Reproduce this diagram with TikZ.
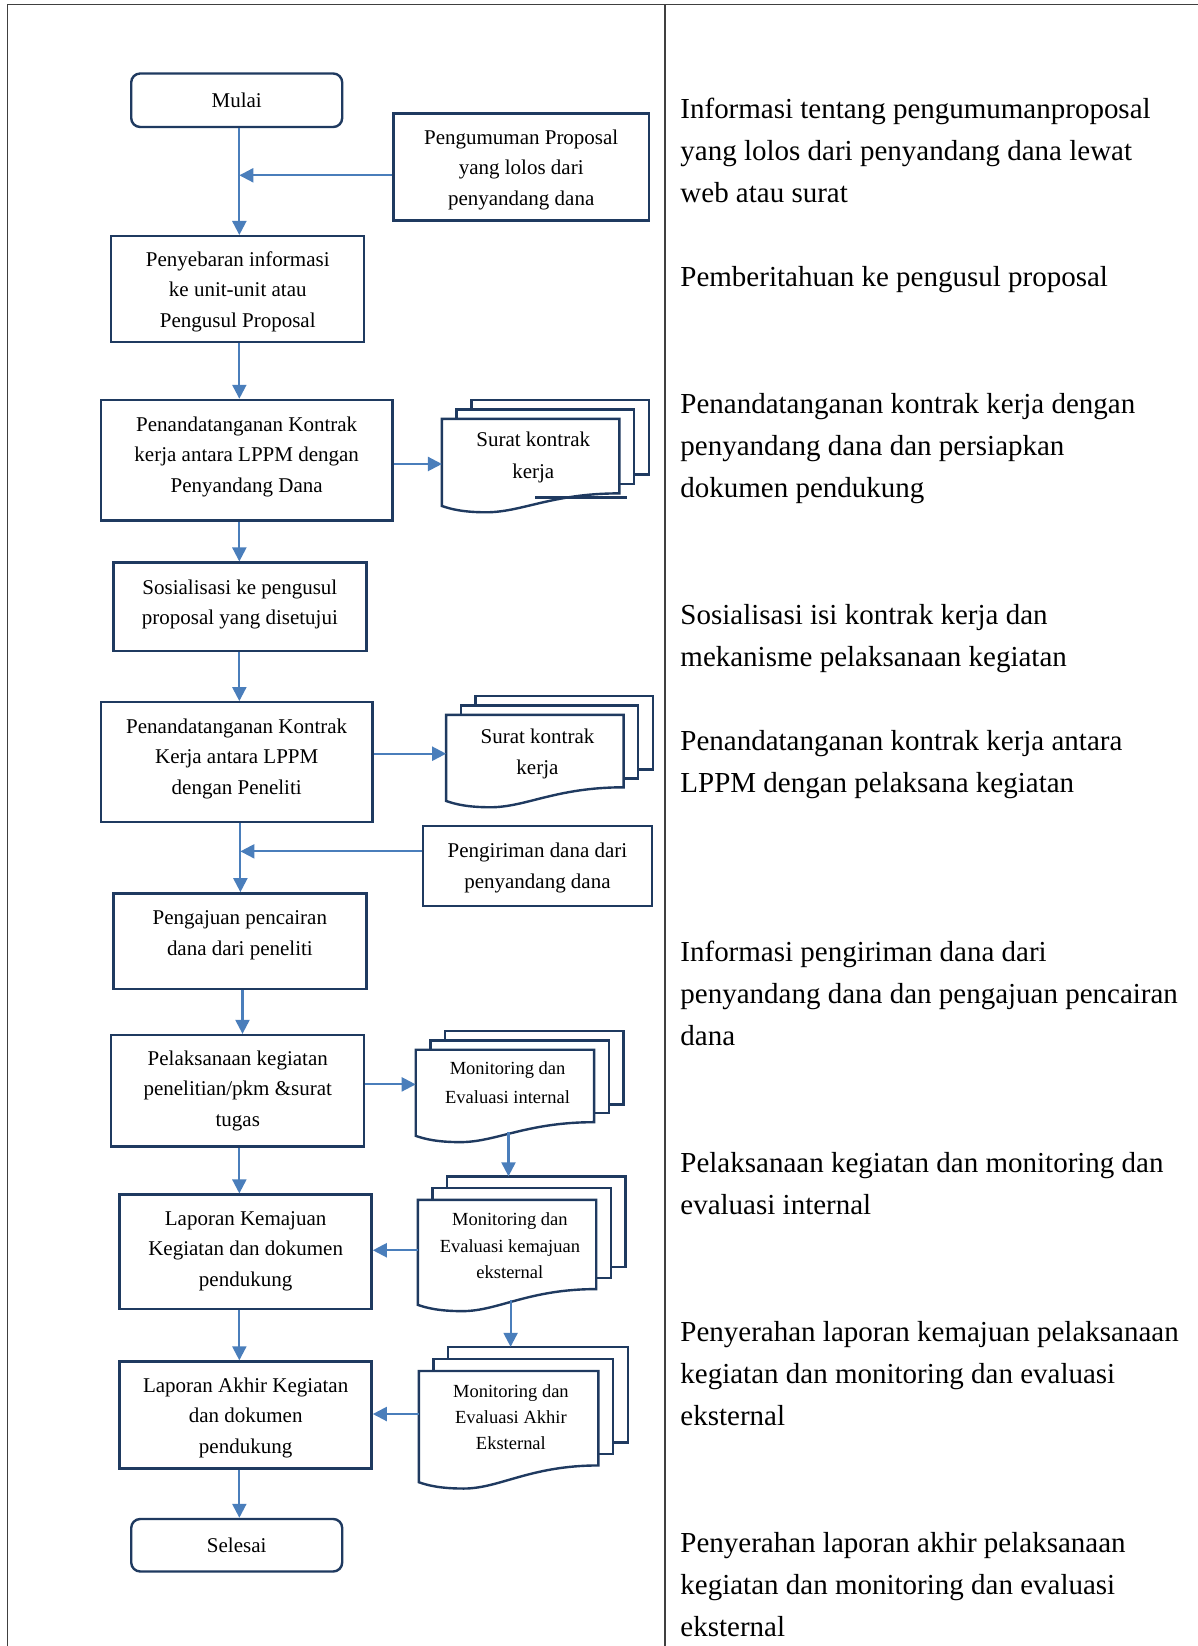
\documentclass[tikz,border=0pt]{standalone}
\usepackage{fontspec}
\setmainfont{Liberation Serif}
\usetikzlibrary{arrows.meta}
\definecolor{navy}{HTML}{1F3A60}
\definecolor{arrb}{HTML}{4A7EBB}
\definecolor{tblc}{HTML}{404040}
\newcommand\dn[1]{\rule[-#1pt]{0pt}{#1pt}}
\newcommand\up[1]{\rule{0pt}{#1pt}}
% multi-document: L, T, R, right-bottom, left-bottom, top offset, bottom offset, name
\newcommand\mdoc[8]{%
  \pgfmathsetmacro\mdw{#3-#1}%
  \filldraw[doc] ({#1+28},{#2-2*#6}) rectangle ({#3+28},{#4-2*#7});
  \filldraw[doc] ({#1+14},{#2-#6}) rectangle ({#3+14},{#4-#7});
  \filldraw[doc] (#1,#2) -- (#3,#2) -- (#3,#4)
     .. controls ({#1+0.62*\mdw},#4) and ({#1+0.45*\mdw},{#5+6}) .. ({#1+0.25*\mdw},{#5+6})
     .. controls ({#1+0.12*\mdw},{#5+6}) and ({#1+0.05*\mdw},{#5+3}) .. (#1,#5) -- cycle;
  \coordinate (#8-L) at (#1,#2);
  \coordinate (#8-top) at ({#1+28},{#2-2*#6});
  \coordinate (#8-bot) at ({#1+0.52*\mdw},{(#4+#5+6)/2});
}
\begin{document}
\begin{tikzpicture}[x=1.05pt,y=-1.05pt,
  box/.style={draw=navy,line width=2.4pt,inner sep=0pt,align=center,font=\fontsize{21}{30.5}\selectfont},
  sz/.style 2 args={minimum width={#1*1.05pt},minimum height={#2*1.05pt}},
  term/.style={box,rounded corners=9pt},
  doc/.style={draw=navy,fill=white,line width=2.4pt,line join=miter},
  dtxt/.style={align=center,inner sep=0pt,font=\fontsize{18.5}{26.5}\selectfont},
  dtxtb/.style={align=center,inner sep=0pt,font=\fontsize{21}{31.5}\selectfont},
  rt/.style={anchor=base west,inner sep=0pt,font=\fontsize{29}{41.8}\selectfont},
  arr/.style={draw=arrb,line width=2.2pt,-{Triangle[length=14pt,width=14pt]}},
  tbl/.style={draw=tblc,line width=1.3pt}]
\useasboundingbox[fill=white] (0,0) rectangle (1141,1568);

% table lines
\draw[tbl] (7,4.3) -- (1141,4.3);
\draw[tbl] (7,4.3) -- (7,1568);
\draw[tbl] (633.5,4.3) -- (633.5,1568);

% process boxes
\node[term, sz={201}{51}] (mulai) at (225.5,95.5) {Mulai};
\node[box, sz={243}{102}] (peng) at (496.5,159) {\up{20}Pengumuman Proposal\\yang lolos dari\\penyandang dana};
\node[box, sz={241}{101}] (sebar) at (226.5,275.5) {\up{20}Penyebaran informasi\\ke unit-unit atau\\Pengusul Proposal};
\node[box, sz={278}{115}] (pen1) at (235,438.5) {Penandatanganan Kontrak\\kerja antara LPPM dengan\\Penyandang Dana\dn{12}};
\node[box, sz={241}{84}] (sos) at (228.5,578) {Sosialisasi ke pengusul\\proposal yang disetujui\dn{9}};
\node[box, sz={259}{114}] (pen2) at (225.5,726) {Penandatanganan Kontrak\\Kerja antara LPPM\\dengan Peneliti\dn{11}};
\node[box, sz={218}{76}] (kirim) at (512,825) {\up{18}Pengiriman dana dari\\penyandang dana};
\node[box, sz={241}{91}] (aju) at (228.5,896.5) {Pengajuan pencairan\\dana dari peneliti\dn{16}};
\node[box, sz={241}{106}] (pel) at (226.5,1039) {Pelaksanaan kegiatan\\penelitian/pkm \&surat\\tugas};
\node[box, sz={240}{109}] (lapk) at (234,1192.5) {Laporan Kemajuan\\Kegiatan dan dokumen\\pendukung\dn{6}};
\node[box, sz={240}{102}] (lapa) at (234,1348) {\up{20}Laporan Akhir Kegiatan\\dan dokumen\\pendukung};
\node[term, sz={201}{50}] (selesai) at (225.5,1472) {Selesai};

% multi-documents
\mdoc{421}{399}{590}{470}{482}{9}{9}{d1}
\draw[navy,line width=3pt] (510,474) -- (597,474);
\mdoc{425}{681}{594}{750}{763}{9}{8.5}{d2}
\mdoc{396}{1000}{566}{1069}{1082}{9}{8.5}{m1}
\mdoc{398}{1143}{568}{1228}{1243}{11.2}{10.5}{m2}
\mdoc{399}{1306}{570}{1396}{1412}{11.5}{11}{m3}

\node[dtxtb] (d1t) at (508,436) {Surat kontrak\\kerja};
\node[dtxtb] (d2t) at (512,718) {Surat kontrak\\kerja};
\node[dtxt, font=\fontsize{18.5}{29}\selectfont] (m1t) at (483.5,1031) {Monitoring dan\\Evaluasi internal};
\node[dtxt] (m2t) at (485.7,1187) {Monitoring dan\\Evaluasi kemajuan\\eksternal};
\node[dtxt] (m3t) at (486.7,1350) {Monitoring dan\\Evaluasi Akhir\\Eksternal};

% connectors
\coordinate (sp) at (228,0);
\coordinate (sp2) at (231,0);
\coordinate (j1) at (228,167);
\coordinate (j2) at (229,811);
\coordinate (a1) at (0,442);
\coordinate (a2) at (0,718);
\coordinate (a3) at (0,1033);
\coordinate (a4) at (0,1191);
\coordinate (a5) at (0,1347);

\draw[arr] (mulai.south -| sp) -- (sebar.north -| sp);
\draw[arr] (peng.west |- j1) -- (j1);
\draw[arr] (sebar.south -| sp) -- (pen1.north -| sp);
\draw[arr] (pen1.east |- a1) -- (d1-L |- a1);
\draw[arr] (pen1.south -| sp) -- (sos.north -| sp);
\draw[arr] (sos.south -| sp) -- (pen2.north -| sp);
\draw[arr] (pen2.east |- a2) -- (d2-L |- a2);
\draw[arr] (pen2.south -| j2) -- (aju.north -| j2);
\draw[arr] (kirim.west |- j2) -- (j2);
\draw[arr] (aju.south -| sp2) -- (pel.north -| sp2);
\draw[arr] (pel.east |- a3) -- (m1-L |- a3);
\draw[arr] (pel.south -| sp) -- (lapk.north -| sp);
\draw[arr] (m1-bot) -- (m1-bot |- m2-top);
\draw[arr] (m2-L |- a4) -- (lapk.east |- a4);
\draw[arr] (lapk.south -| sp) -- (lapa.north -| sp);
\draw[arr] (m2-bot) -- (m2-bot |- m3-top);
\draw[arr] (m3-L |- a5) -- (lapa.east |- a5);
\draw[arr] (lapa.south -| sp) -- (selesai.north -| sp);

% right column
\node[rt] (r1) at (648,113) {\parbox[t]{600pt}{\raggedright Informasi tentang pengumumanproposal\\yang lolos dari penyandang dana lewat\\web atau surat}};
\node[rt] (r2) at (648,273) {\parbox[t]{600pt}{\raggedright Pemberitahuan ke pengusul proposal}};
\node[rt] (r3) at (648,394) {\parbox[t]{600pt}{\raggedright Penandatanganan kontrak kerja dengan\\penyandang dana dan persiapkan\\dokumen pendukung}};
\node[rt] (r4) at (648,595) {\parbox[t]{600pt}{\raggedright Sosialisasi isi kontrak kerja dan\\mekanisme pelaksanaan kegiatan}};
\node[rt] (r5) at (648,715) {\parbox[t]{600pt}{\raggedright Penandatanganan kontrak kerja antara\\LPPM dengan pelaksana kegiatan}};
\node[rt] (r6) at (648,916) {\parbox[t]{600pt}{\raggedright Informasi pengiriman dana dari\\penyandang dana dan pengajuan pencairan\\dana}};
\node[rt] (r7) at (648,1117) {\parbox[t]{600pt}{\raggedright Pelaksanaan kegiatan dan monitoring dan\\evaluasi internal}};
\node[rt] (r8) at (648,1278) {\parbox[t]{600pt}{\raggedright Penyerahan laporan kemajuan pelaksanaan\\kegiatan dan monitoring dan evaluasi\\eksternal}};
\node[rt] (r9) at (648,1479) {\parbox[t]{600pt}{\raggedright Penyerahan laporan akhir pelaksanaan\\kegiatan dan monitoring dan evaluasi\\eksternal}};
\end{tikzpicture}
\end{document}
